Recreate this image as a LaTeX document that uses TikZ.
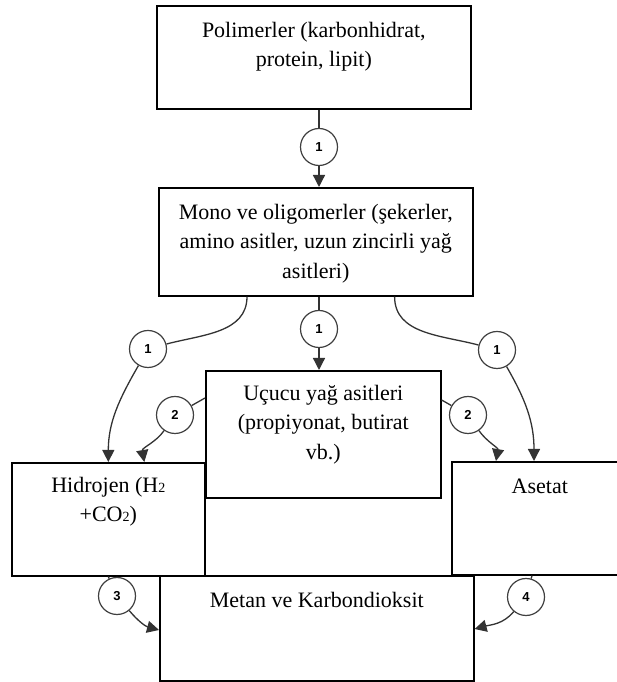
\documentclass[tikz,border=0pt]{standalone}
\usepackage{fontspec}
\setmainfont{Liberation Serif}
\setsansfont{Liberation Sans}
\usetikzlibrary{positioning,calc,arrows.meta}

\newcommand{\lowtwo}{{\fontsize{14}{14}\selectfont 2}}

\tikzset{
    box/.style={draw=black, line width=1.6pt, fill=white, rectangle, inner sep=0pt, anchor=north west},
    lbl/.style={inner sep=0pt, align=center, font=\fontsize{22}{29.5}\selectfont},
    stage/.style={draw=black!75, line width=1.2pt, circle, fill=white, minimum size=37pt, inner sep=0pt, font=\sffamily\bfseries\fontsize{13}{13}\selectfont},
    wire/.style={draw=black!80, line width=1.3pt},
    arr/.style={wire, -{Triangle[length=12pt,width=12pt]}}
}

\begin{document}
\begin{tikzpicture}[x=1pt,y=1pt]
    \useasboundingbox (0,0) rectangle (617,682);
    \clip (0,0) rectangle (617,682);

    %Polimerler
    \node[box, minimum width=314pt, minimum height=103pt] (poli) at (156,677) {};
    \node[lbl, below=17pt of poli.north] (poliT) {Polimerler (karbonhidrat,\\protein, lipit)};

    %Mono ve oligomerler
    \node[box, minimum width=314pt, minimum height=108pt] (mono) at (158,495) {};
    \node[lbl, below=17pt of mono.north] (monoT) {Mono ve oligomerler (şekerler,\\amino asitler, uzun zincirli yağ\\asitleri)};

    %Ucucu yag asitleri
    \node[box, minimum width=235pt, minimum height=127pt] (ucucu) at (205,312) {};
    \node[lbl, below=15pt of ucucu.north] (ucucuT) {Uçucu yağ asitleri\\(propiyonat, butirat\\vb.)};

    %Hidrojen
    \node[box, minimum width=193pt, minimum height=113pt] (hid) at (11,220) {};
    \node[lbl, below=15pt of hid.north] (hidT) {Hidrojen (H\lowtwo\\+CO\lowtwo)};

    %Asetat
    \node[box, minimum width=176pt, minimum height=113pt] (aset) at (451,221) {};
    \node[lbl, below=18pt of aset.north] (asetT) {Asetat};

    %Metan
    \node[box, minimum width=314pt, minimum height=105pt] (metan) at (159,107) {};
    \node[lbl, below=17pt of metan.north] (metanT) {Metan ve Karbondioksit};

    %Stages
    \node[stage] (s1a) at (319,535) {1};
    \node[stage] (s1b) at (148,333) {1};
    \node[stage] (s1c) at (319,353) {1};
    \node[stage] (s1d) at (497,332) {1};
    \node[stage] (s2a) at (175,267) {2};
    \node[stage] (s2b) at (468,267) {2};
    \node[stage] (s3) at (117,86) {3};
    \node[stage] (s4) at (526,85) {4};

    \draw[wire] (s1a |- poli.south) -- (s1a);
    \draw[arr] (s1a) -- (s1a |- mono.north);

    \draw[wire] ($(mono.south west)+(89,0)$) to[out=-90,in=15] (s1b);
    \draw[arr] (s1b) to[out=-120,in=90] (hid.north);
    \draw[wire] (s1c |- mono.south) -- (s1c);
    \draw[arr] (s1c) -- (s1c |- ucucu.north);
    \draw[wire] ($(mono.south east)+(-79,0)$) to[out=-90,in=165] (s1d);
    \draw[arr] (s1d) to[out=-60,in=90] ($(aset.north west)+(83,0)$);

    \draw[wire] ($(ucucu.north west)+(0,-28)$) -- (s2a);
    \draw[arr] (s2a) to[out=-125,in=100] ($(hid.north)+(36,0)$);
    \draw[wire] ($(ucucu.north east)+(0,-30)$) -- (s2b);
    \draw[arr] (s2b) to[out=-55,in=80] ($(aset.north west)+(45,0)$);

    \draw[wire] (hid.south) -- (s3);
    \draw[arr] (s3) to[out=-50,in=165] ($(metan.north west)+(0,-55)$);
    \draw[wire] ($(aset.south west)+(81,0)$) -- (s4);
    \draw[arr] (s4) to[out=-130,in=15] ($(metan.north east)+(0,-54)$);
\end{tikzpicture}
\end{document}
